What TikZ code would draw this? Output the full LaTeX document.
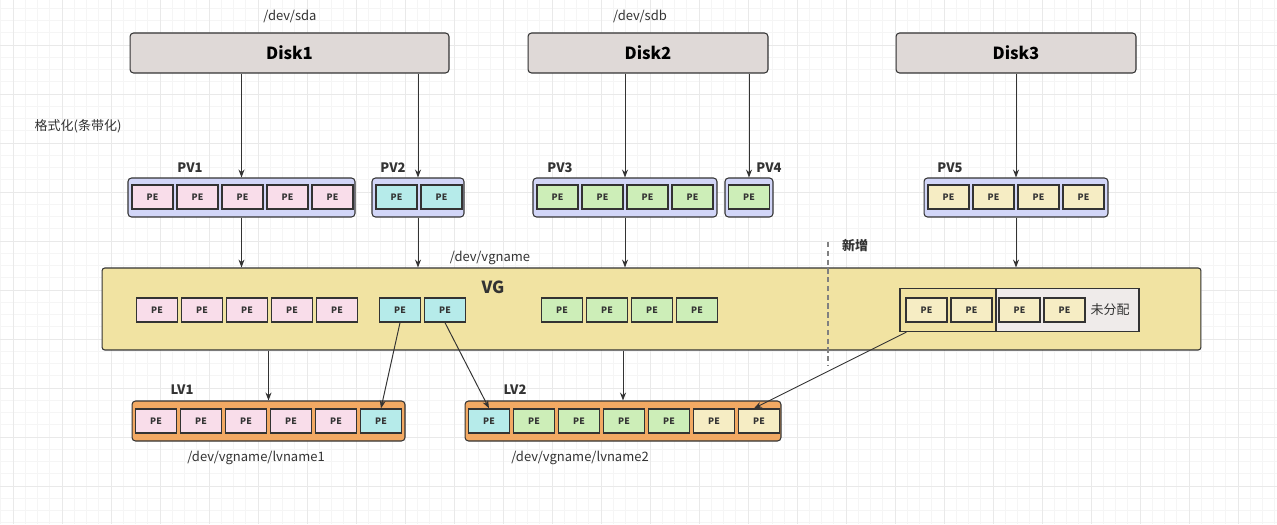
\documentclass[tikz,border=0pt]{standalone}
\usepackage{fontspec}
\setmainfont{Noto Sans CJK SC}
\usetikzlibrary{positioning,arrows.meta}

\definecolor{diskfill}{HTML}{DFD9D7}
\definecolor{pvfill}{HTML}{D2D6F8}
\definecolor{vgfill}{HTML}{F1E3A2}
\definecolor{lvfill}{HTML}{F2A963}
\definecolor{freefill}{HTML}{EFEBEA}
\definecolor{pepink}{HTML}{F9DDEA}
\definecolor{pecyan}{HTML}{B6EBEA}
\definecolor{pegreen}{HTML}{CDEEB8}
\definecolor{peyellow}{HTML}{F6EDC4}
\definecolor{inkgray}{HTML}{333333}
\definecolor{gridminor}{HTML}{F5F5F5}
\definecolor{gridmajor}{HTML}{E9E9E9}

\begin{document}
\begin{tikzpicture}[x=0.02cm, y=-0.02cm, font=\fontsize{7.4pt}{9pt}\selectfont, text=inkgray,
    disk/.style={rectangle, rounded corners=2pt, draw=inkgray, fill=diskfill, line width=0.6pt, minimum height=0.8cm, font=\fontsize{9.5pt}{11pt}\selectfont\bfseries, text=black},
    pv/.style={rectangle, rounded corners=2pt, draw=inkgray, fill=pvfill, line width=0.6pt, minimum height=0.78cm},
    lv/.style={rectangle, rounded corners=2pt, draw=inkgray, fill=lvfill, line width=0.6pt, minimum height=0.8cm},
    pe/.style={rectangle, draw=inkgray, line width=0.8pt, minimum width=0.82cm, minimum height=0.48cm, inner sep=0pt, font=\fontsize{5pt}{6pt}\selectfont\bfseries},
    tag/.style={font=\fontsize{7.4pt}{9pt}\selectfont\bfseries},
    link/.style={-{Stealth[length=4.5pt, width=3.4pt]}, inkgray, line width=0.55pt}]
    % background and grid
    \fill[white] (0,0) rectangle (1277,524);
    \useasboundingbox (0,0) rectangle (1277,524);
    \foreach \i in {0,...,104} \draw[gridminor, line width=0.4pt] ({0.75+\i*12.25},0) -- ({0.75+\i*12.25},524);
    \foreach \i in {0,...,42} \draw[gridminor, line width=0.4pt] (0,{8.25+\i*12.25}) -- (1277,{8.25+\i*12.25});
    \foreach \i in {0,...,26} \draw[gridmajor, line width=0.5pt] ({13+\i*49},0) -- ({13+\i*49},524);
    \foreach \i in {0,...,10} \draw[gridmajor, line width=0.5pt] (0,{45+\i*49}) -- (1277,{45+\i*49});

	% disks
	\node (disk1) [disk, minimum width=6.38cm] at (289.5,53) {Disk1};
	\node (disk2) [disk, minimum width=4.8cm] at (648,53) {Disk2};
	\node (disk3) [disk, minimum width=4.8cm] at (1016,53) {Disk3};
	\node (sda) at (290,16) {/dev/sda};
	\node (sdb) at (640,16) {/dev/sdb};
	\node (fmt) at (78,126) {格式化(条带化)};

	% physical volumes
	\node (pv1) [pv, minimum width=4.54cm] at (241.5,197.5) {};
	\node (pv2) [pv, minimum width=1.84cm] at (418,197.5) {};
	\node (pv3) [pv, minimum width=3.68cm] at (625,197.5) {};
	\node (pv4) [pv, minimum width=0.96cm] at (749,197.5) {};
	\node (pv5) [pv, minimum width=3.68cm] at (1016,197.5) {};
	\foreach \i in {1,...,5} \node (pv1pe\i) [pe, fill=pepink] at ({107.5+\i*45},197) {PE};
	\foreach \i in {1,2} \node (pv2pe\i) [pe, fill=pecyan] at ({351.5+\i*45},197) {PE};
	\foreach \i in {1,...,4} \node (pv3pe\i) [pe, fill=pegreen] at ({512.5+\i*45},197) {PE};
	\node (pv4pe1) [pe, fill=pegreen] at (749,197) {PE};
	\foreach \i in {1,...,4} \node (pv5pe\i) [pe, fill=peyellow] at ({903.5+\i*45},197) {PE};
	\node (pv1tag) [tag] at (190,168) {PV1};
	\node (pv2tag) [tag] at (393,168) {PV2};
	\node (pv3tag) [tag] at (560,168) {PV3};
	\node (pv4tag) [tag] at (769,168) {PV4};
	\node (pv5tag) [tag] at (950,168) {PV5};

	% volume group
	\node (vg) [rectangle, rounded corners=1.5pt, draw=inkgray, fill=vgfill, line width=0.6pt, minimum width=21.98cm, minimum height=1.64cm] at (651.5,309) {};
	\node (vgtag) [font=\fontsize{9.5pt}{11pt}\selectfont\bfseries] at (493,287) {VG};
	\node (vgname) at (490,258) {/dev/vgname};
	\foreach \i in {1,...,5} \node (vgpe\i) [pe, fill=pepink] at ({112+\i*45},310) {PE};
	\node (vgpe6) [pe, fill=pecyan] at (400,310) {PE};
	\node (vgpe7) [pe, fill=pecyan] at (445,310) {PE};
	\foreach \i in {1,...,4} \node (vggreen\i) [pe, fill=pegreen] at ({517+\i*45},310) {PE};
	\node (alloc) [rectangle, draw=inkgray, fill=vgfill, line width=0.7pt, minimum width=1.92cm, minimum height=0.86cm] at (948,310) {};
	\node (unalloc) [rectangle, draw=inkgray, fill=freefill, line width=0.7pt, minimum width=2.86cm, minimum height=0.86cm] at (1067.5,310) {};
	\node (newpe1) [pe, fill=peyellow] at (926.5,310) {PE};
	\node (newpe2) [pe, fill=peyellow] at (971.5,310) {PE};
	\node (freepe1) [pe, fill=peyellow] at (1019.5,310) {PE};
	\node (freepe2) [pe, fill=peyellow] at (1064.5,310) {PE};
	\node (freetag) at (1110,310) {未分配};
	\coordinate (cut top) at (828,242);
	\coordinate (cut bottom) at (828,366);
	\draw [dashed, draw=gray, line width=0.8pt, dash pattern=on 3pt off 2pt] (cut top) -- (cut bottom);
	\node (newtag) [font=\fontsize{7.4pt}{9pt}\selectfont\bfseries] at (855,246) {新增};

	% logical volumes
	\node (lv1) [lv, minimum width=5.46cm] at (268.5,421) {};
	\node (lv2) [lv, minimum width=6.32cm] at (623,421) {};
	\foreach \i in {1,...,5} \node (lv1pe\i) [pe, fill=pepink] at ({111+\i*45},421) {PE};
	\node (lv1pe6) [pe, fill=pecyan] at (381,421) {PE};
	\node (lv2pe1) [pe, fill=pecyan] at (489,421) {PE};
	\foreach \i in {2,...,5} \node (lv2pe\i) [pe, fill=pegreen] at ({444+\i*45},421) {PE};
	\node (lv2pe6) [pe, fill=peyellow] at (714,421) {PE};
	\node (lv2pe7) [pe, fill=peyellow] at (759,421) {PE};
	\node (lv1tag) [tag] at (182,390) {LV1};
	\node (lv2tag) [tag] at (515,390) {LV2};
	\node (lv1name) at (256,458) {/dev/vgname/lvname1};
	\node (lv2name) at (580,458) {/dev/vgname/lvname2};

	% connectors
    \path [link] (disk1.south -| pv1) edge (pv1.north)
       (disk1.south -| pv2) edge (pv2.north)
       (disk2.south -| pv3) edge (pv3.north)
       (disk2.south -| pv4) edge (pv4.north)
       (disk3.south) edge (pv5.north)
       (pv1.south) edge (vg.north -| pv1)
       (pv2.south) edge (vg.north -| pv2)
       (pv3.south) edge (vg.north -| pv3)
       (pv5.south) edge (vg.north -| pv5)
       (vg.south -| lv1) edge (lv1.north)
       (vg.south -| lv2) edge (lv2.north)
       (vgpe6.south) edge (lv1pe6.north)
       (vgpe7.south) edge (lv2pe1.north)
       ([xshift=7*0.02cm] alloc.south west) edge ([xshift=-0.1cm] lv2pe7.north);
\end{tikzpicture}
\end{document}
